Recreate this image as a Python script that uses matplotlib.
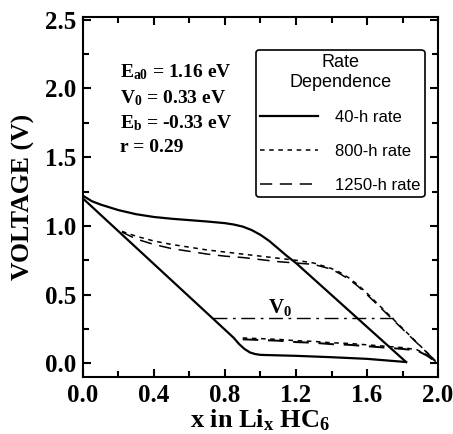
import matplotlib.pyplot as plt
from matplotlib.ticker import MultipleLocator

# Data
# 40-h rate: charge (upper) and discharge (lower) branches
x_40_up = [0, 0.05, 0.1, 0.2, 0.3, 0.4, 0.5, 0.6, 0.7, 0.8, 0.85, 0.9, 0.95, 1.0, 1.05, 1.1, 1.15, 1.2, 1.82]
v_40_up = [1.22, 1.18, 1.155, 1.115, 1.085, 1.065, 1.052, 1.042, 1.032, 1.02, 1.01, 0.995, 0.97, 0.935, 0.89, 0.835, 0.78, 0.73, 0.01]
x_40_dn = [0, 0.8, 0.85, 0.88, 0.91, 0.94, 0.97, 1.0, 1.2, 1.4, 1.6, 1.82]
v_40_dn = [1.20, 0.245, 0.185, 0.14, 0.105, 0.08, 0.068, 0.062, 0.055, 0.045, 0.033, 0.01]

# 800-h rate
x_800_up = [0.22, 0.3, 0.4, 0.5, 0.6, 0.7, 0.8, 0.9, 1.0, 1.1, 1.2, 1.3, 1.4, 1.45, 1.5, 1.55, 1.6, 2.0]
v_800_up = [0.96, 0.925, 0.89, 0.865, 0.845, 0.825, 0.81, 0.795, 0.78, 0.765, 0.75, 0.73, 0.69, 0.66, 0.62, 0.57, 0.51, 0.0]
x_800_dn = [0.9, 1.0, 1.1, 1.2, 1.3, 1.4, 1.5, 1.6, 1.7, 1.8, 1.88, 1.94, 2.0]
v_800_dn = [0.185, 0.18, 0.175, 0.165, 0.16, 0.15, 0.145, 0.135, 0.125, 0.115, 0.1, 0.06, 0.0]

# 1250-h rate
x_1250_up = [0.22, 0.3, 0.4, 0.5, 0.6, 0.7, 0.8, 0.9, 1.0, 1.1, 1.2, 1.3, 1.4, 1.45, 1.5, 1.55, 1.6, 2.0]
v_1250_up = [0.955, 0.905, 0.865, 0.835, 0.815, 0.795, 0.78, 0.77, 0.755, 0.74, 0.73, 0.72, 0.685, 0.65, 0.61, 0.56, 0.50, 0.0]
x_1250_dn = [0.9, 1.0, 1.1, 1.2, 1.3, 1.4, 1.5, 1.6, 1.7, 1.8, 1.88, 1.94, 2.0]
v_1250_dn = [0.175, 0.17, 0.165, 0.155, 0.15, 0.14, 0.135, 0.125, 0.115, 0.105, 0.095, 0.055, 0.0]

# V0 reference line
v0_x = [0.73, 1.75]
v0_y = [0.33, 0.33]

params_text = ('E$_{\\mathbf{a0}}$ = 1.16 eV\n'
               'V$_{\\mathbf{0}}$ = 0.33 eV\n'
               'E$_{\\mathbf{b}}$ = -0.33 eV\n'
               'r = 0.29')

plt.rcParams['font.family'] = 'Liberation Serif'
plt.rcParams['font.weight'] = 'bold'
plt.rcParams['mathtext.fontset'] = 'custom'
plt.rcParams['mathtext.bf'] = 'Liberation Serif:bold'
plt.rcParams['mathtext.rm'] = 'Liberation Serif:bold'
plt.rcParams['mathtext.default'] = 'bf'

fig = plt.figure(figsize=(4.53, 4.34), dpi=100)
ax = fig.add_axes([0.183, 0.131, 0.784, 0.830])

ax.plot(x_40_up, v_40_up, color='black', linewidth=1.6, label='40-h rate')
ax.plot(x_40_dn, v_40_dn, color='black', linewidth=1.6)
ax.plot(x_800_up, v_800_up, color='black', linewidth=1.1, linestyle=(0, (3, 3)), label='800-h rate')
ax.plot(x_800_dn, v_800_dn, color='black', linewidth=1.1, linestyle=(0, (3, 3)))
ax.plot(x_1250_up, v_1250_up, color='black', linewidth=1.1, linestyle=(0, (8, 5)), label='1250-h rate')
ax.plot(x_1250_dn, v_1250_dn, color='black', linewidth=1.4, linestyle=(0, (8, 5)))
ax.plot(v0_x, v0_y, color='black', linewidth=1.0, linestyle=(0, (10, 4, 2, 4)))

ax.text(1.04, 0.37, 'V$_{\\mathbf{0}}$', fontsize=15, fontweight='bold')
ax.text(0.21, 1.85, params_text, fontsize=14, fontweight='bold',
        va='center', linespacing=1.4)

ax.set_xlim(0, 2.0)
ax.set_ylim(-0.1, 2.52)
ax.xaxis.set_major_locator(MultipleLocator(0.4))
ax.xaxis.set_minor_locator(MultipleLocator(0.2))
ax.yaxis.set_major_locator(MultipleLocator(0.5))
ax.yaxis.set_minor_locator(MultipleLocator(0.25))
ax.tick_params(which='both', direction='in', top=True, right=True, width=1.5)
ax.tick_params(which='major', length=6, labelsize=18, pad=5)
ax.tick_params(which='minor', length=4)
for lab in ax.get_xticklabels() + ax.get_yticklabels():
    lab.set_fontweight('bold')
for s in ax.spines.values():
    s.set_linewidth(1.5)

ax.set_xlabel('x in Li$_{\\mathbf{x}}$ HC$_{\\mathbf{6}}$', fontsize=19, fontweight='bold', labelpad=0)
ax.set_ylabel('VOLTAGE (V)', fontsize=18.5, fontweight='bold', labelpad=7)

leg = ax.legend(loc='upper left', bbox_to_anchor=(0.487, 0.908), title='Rate\nDependence',
                prop={'family': 'Liberation Sans', 'size': 12, 'weight': 'normal'},
                handlelength=3.5, handletextpad=1.0, labelspacing=1.15,
                fancybox=True, framealpha=1, edgecolor='black', borderaxespad=0,
                borderpad=0.25)
title = leg.get_title()
title.set_fontfamily('Liberation Sans')
title.set_fontweight('normal')
title.set_fontsize(13)
title.set_multialignment('center')
leg.get_frame().set_linewidth(1.2)

plt.savefig('out.png', dpi=100)
